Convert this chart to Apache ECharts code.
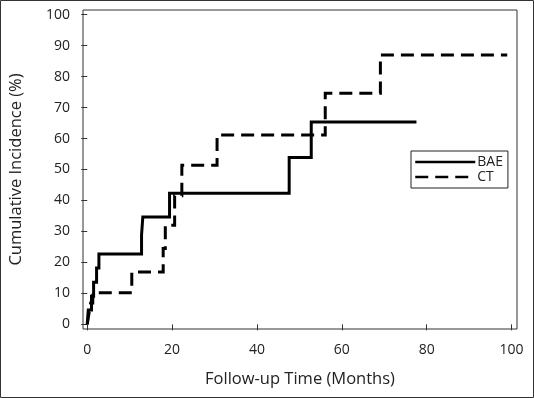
<!DOCTYPE html>
<html>
<head>
<meta charset="utf-8">
<script src="https://cdn.jsdelivr.net/npm/echarts@6/dist/echarts.min.js"></script>
<style>
html,body{margin:0;padding:0;background:#fff;}
#c{width:534px;height:398px;}
</style>
</head>
<body>
<div id="c"></div>
<script>
// Data (time in months, cumulative incidence in %)
const baeTime = [0, 0.24, 1.0, 1.5, 2.2, 2.75, 12.8, 13.1, 19.4, 47.6, 52.8, 77.6];
const baeInc  = [0, 4.6, 9.1, 13.6, 18.2, 22.7, 28.8, 34.7, 42.3, 53.9, 65.3, 65.3];
const ctTime  = [0, 0.4, 0.8, 1.3, 10.5, 17.9, 18.4, 20.6, 22.3, 30.6, 56.1, 69.1, 99];
const ctInc   = [0, 3.4, 6.9, 10.2, 16.9, 24.5, 32.0, 41.5, 51.4, 61.1, 74.6, 87.0, 87.0];
const xTicks  = [0, 20, 40, 60, 80, 100];
const yTicks  = [0, 10, 20, 30, 40, 50, 60, 70, 80, 90, 100];
const seriesNames = ['BAE', 'CT'];

const FONT = '"Open Sans", sans-serif';
const TXT = '#222';

const chart = echarts.init(document.getElementById('c'), null, {renderer: 'canvas'});
chart.setOption({
  animation: false,
  backgroundColor: '#fff',
  textStyle: {fontFamily: FONT},
  graphic: [{
    type: 'rect', silent: true, z: 100,
    shape: {x: 0.5, y: 0.5, width: 533, height: 397},
    style: {fill: 'none', stroke: '#333', lineWidth: 1}
  }],
  grid: {
    left: 83, right: 17, top: 10, bottom: 69,
    show: true, borderColor: '#333', borderWidth: 1, backgroundColor: 'transparent'
  },
  legend: {
    orient: 'vertical', left: 411, top: 151,
    data: seriesNames,
    itemWidth: 60, itemHeight: 14, itemGap: 1,
    padding: [4, 5, 4, 3],
    borderColor: '#222', borderWidth: 1,
    textStyle: {fontFamily: FONT, fontSize: 14, color: TXT, padding: [0, 0, 0, -3]},
    lineStyle: {width: 2.5},
    itemStyle: {opacity: 0},
    selectedMode: false
  },
  xAxis: {
    type: 'value', min: -1, max: 101.3,
    name: 'Follow-up Time (Months)', nameLocation: 'middle', nameGap: 42,
    nameTextStyle: {fontFamily: FONT, fontSize: 16.5, color: TXT},
    axisLine: {show: false},
    axisTick: {show: true, length: 6, customValues: xTicks, lineStyle: {color: '#333'}},
    axisLabel: {customValues: xTicks, margin: 14, fontFamily: FONT, fontSize: 14, color: TXT},
    splitLine: {show: false}
  },
  yAxis: {
    type: 'value', min: -1.5, max: 101.5,
    name: 'Cumulative Incidence (%)', nameLocation: 'middle', nameGap: 58,
    nameTextStyle: {fontFamily: FONT, fontSize: 16.5, color: TXT},
    axisLine: {show: false},
    axisTick: {show: true, length: 6, customValues: yTicks, lineStyle: {color: '#333'}},
    axisLabel: {customValues: yTicks, margin: 13, fontFamily: FONT, fontSize: 14, color: TXT},
    splitLine: {show: false}
  },
  series: [
    {
      name: seriesNames[0], type: 'line', step: 'end', symbol: 'none', z: 3,
      data: baeTime.map((t, i) => [t, baeInc[i]]),
      lineStyle: {color: '#000', width: 3, type: 'solid', cap: 'butt', join: 'miter'},
      itemStyle: {color: '#000'}
    },
    {
      name: seriesNames[1], type: 'line', step: 'end', symbol: 'none', z: 2,
      data: ctTime.map((t, i) => [t, ctInc[i]]),
      lineStyle: {color: '#000', width: 3, type: [13, 7], cap: 'butt', join: 'miter'},
      itemStyle: {color: '#000'}
    }
  ]
});
</script>
</body>
</html>
